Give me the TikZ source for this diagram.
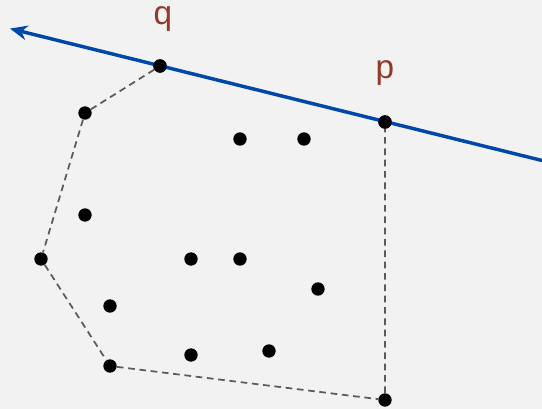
\documentclass[tikz,border=0pt]{standalone}
\usepackage{fontspec}
\setmainfont{Liberation Sans}
\usetikzlibrary{arrows.meta}
\definecolor{bgcol}{RGB}{242,242,242}
\definecolor{linecol}{RGB}{0,71,171}
\definecolor{labcol}{RGB}{148,56,40}
\definecolor{hullcol}{RGB}{90,90,90}
\begin{document}
\begin{tikzpicture}[x=0.75pt,y=0.75pt,yscale=-1,xscale=1,
  dot/.style={circle,fill=black,inner sep=0pt,minimum size=10pt},
  hull/.style={draw=hullcol,line width=1.3pt,dash pattern=on 5pt off 3.5pt},
  lab/.style={text=labcol,font=\fontsize{25}{28}\selectfont,inner sep=0pt,anchor=base}]
%set diagram area
\path[fill=bgcol,use as bounding box] (0,0) rectangle (542,409);

%Shape: Hull vertices
\node[dot] (q) at (160,66) {};
\node[dot] (p) at (385,122) {};
\node[dot] (v1) at (385,400) {};
\node[dot] (v2) at (110,366) {};
\node[dot] (v3) at (41,259) {};
\node[dot] (v4) at (85,113) {};
%Shape: Inner points
\node[dot] (a1) at (240,139) {};
\node[dot] (a2) at (304,139) {};
\node[dot] (a3) at (85,215) {};
\node[dot] (a4) at (191,259) {};
\node[dot] (a5) at (240,259) {};
\node[dot] (a6) at (318,289) {};
\node[dot] (a7) at (110,306) {};
\node[dot] (a8) at (191,355) {};
\node[dot] (a9) at (269,351) {};

%Dashed hull
\draw[hull] (q) -- (v4) -- (v3) -- (v2) -- (v1) -- (p);

%Line through p and q
\coordinate (e1) at (542,160.5);
\coordinate (e2) at (10,28.6);
\draw[linecol,line width=2.6pt,-{Stealth[length=13pt,width=11pt]}] (e1) -- (e2);
\node[dot] at (q) {};
\node[dot] at (p) {};

% Text Node
\node[lab] (ql) at (163,25) {q};
% Text Node
\node[lab] (pl) at (385,79) {p};
\end{tikzpicture}
\end{document}
